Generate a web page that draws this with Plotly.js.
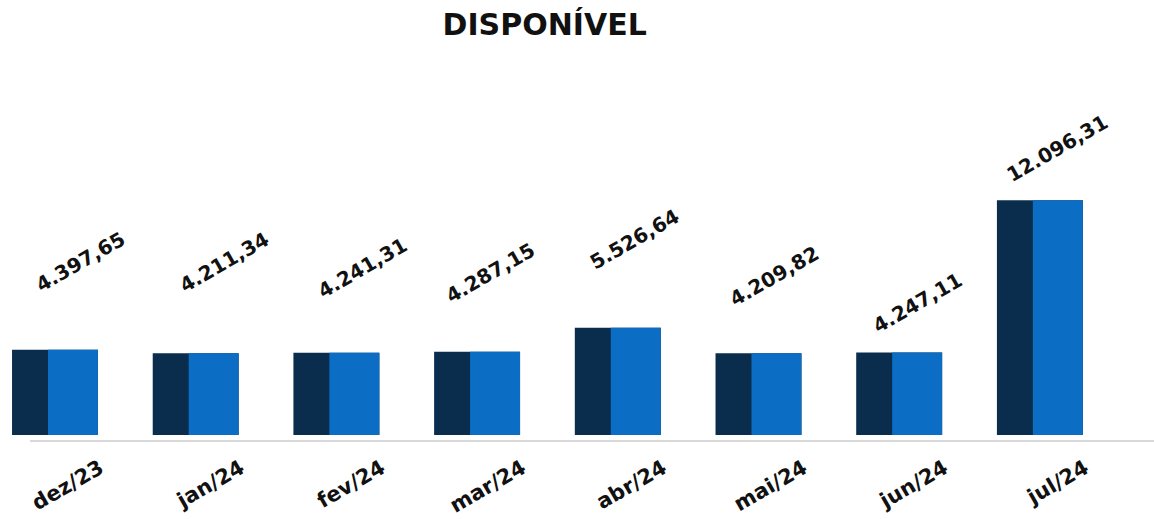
<!DOCTYPE html>
<html>
<head>
<meta charset="utf-8">
<script src="https://cdn.plot.ly/plotly-3.0.1.min.js"></script>
<style>html,body{margin:0;padding:0;background:#fff;}#chart{width:1154px;height:519px;}</style>
</head>
<body>
<div id="chart"></div>
<script>
const categories = ["dez/23","jan/24","fev/24","mar/24","abr/24","mai/24","jun/24","jul/24"];
const values = [4397.65, 4211.34, 4241.31, 4287.15, 5526.64, 4209.82, 4247.11, 12096.31];
const valueLabels = ["4.397,65","4.211,34","4.241,31","4.287,15","5.526,64","4.209,82","4.247,11","12.096,31"];
// per-label pixel offsets (style only)
const labelDx = [25, 29, 26, 13, 17, 16, 18, 18];
const labelDy = [88, 91, 85, 79, 89, 77, 50, 52];

const font = "'DejaVu Sans', sans-serif";

const darkSide = {
  type: "bar", x: categories, y: values, width: 0.611,
  marker: {color: "#0a2c4d", line: {width: 0}},
  hoverinfo: "skip", showlegend: false
};
const front = {
  type: "bar", x: categories, y: values, width: 0.355, offset: -0.05,
  marker: {color: "#0b6ec4", line: {width: 0}},
  hoverinfo: "skip", showlegend: false
};

const annotations = categories.map((c, i) => ({
  x: c, y: values[i], xref: "x", yref: "y",
  text: valueLabels[i], showarrow: false, textangle: -30,
  xanchor: "center", yanchor: "middle",
  xshift: labelDx[i], yshift: labelDy[i],
  font: {family: font, size: 20, color: "#111", weight: "bold"}
}));

const layout = {
  width: 1154, height: 519,
  margin: {l: 0, r: 0, t: 60, b: 84},
  paper_bgcolor: "#fff", plot_bgcolor: "#fff",
  barmode: "overlay",
  title: {text: "<b>DISPONÍVEL</b>", x: 0.472, xanchor: "center", y: 0.953, yanchor: "middle",
          font: {family: font, size: 30, color: "#111"}},
  xaxis: {
    type: "category", range: [-0.391, 7.811],
    showgrid: false, zeroline: false, showline: false, ticks: "",
    tickangle: -30, ticklabelshift: 45, ticklabelstandoff: 16,
    tickfont: {family: font, size: 21, color: "#111", weight: "bold"}
  },
  yaxis: {range: [0, 19330], visible: false, showgrid: false, zeroline: false},
  shapes: [{type: "line", xref: "paper", yref: "paper", x0: 30/1154, x1: 1, y0: -0.016, y1: -0.016,
            line: {color: "#d9d9d9", width: 2}}],
  annotations: annotations
};

Plotly.newPlot("chart", [darkSide, front], layout, {displayModeBar: false, staticPlot: true});
</script>
</body>
</html>
